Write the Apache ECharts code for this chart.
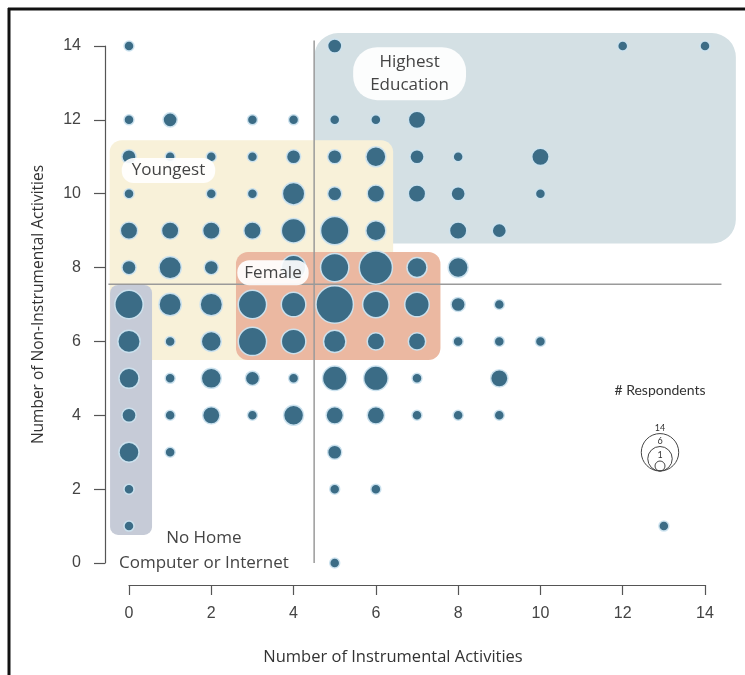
<!DOCTYPE html>
<html>
<head>
<meta charset="utf-8">
<script src="https://cdn.jsdelivr.net/npm/echarts@6/dist/echarts.min.js"></script>
<style>
  html, body { margin: 0; padding: 0; background: #fff; }
  #chart { width: 745px; height: 675px; }
</style>
</head>
<body>
<div id="chart"></div>
<script>
// number of respondents per (instrumental, non-instrumental) cell
// one row per non-instrumental level, index in row = instrumental activities 0..14
const nonInstrLevels = [14, 12, 11, 10, 9, 8, 7, 6, 5, 4, 3, 2, 1, 0];
const respondentRows = [
  [1, 0, 0, 0, 0, 2, 0, 0, 0, 0, 0, 0, 1, 0, 1],
  [1, 2, 0, 1, 1, 1, 1, 3, 0, 0, 0, 0, 0, 0, 0],
  [2, 1, 1, 1, 2, 2, 4, 2, 1, 0, 3, 0, 0, 0, 0],
  [1, 0, 1, 1, 5, 2, 3, 3, 2, 0, 1, 0, 0, 0, 0],
  [3, 3, 3, 3, 6, 8, 4, 0, 3, 2, 0, 0, 0, 0, 0],
  [2, 5, 2, 0, 6, 8, 11, 4, 4, 0, 0, 0, 0, 0, 0],
  [8, 5, 5, 8, 6, 14, 7, 6, 2, 1, 0, 0, 0, 0, 0],
  [5, 1, 4, 8, 6, 5, 3, 3, 1, 1, 1, 0, 0, 0, 0],
  [4, 1, 4, 2, 1, 6, 6, 1, 0, 3, 0, 0, 0, 0, 0],
  [2, 1, 3, 1, 4, 3, 3, 1, 1, 1, 0, 0, 0, 0, 0],
  [4, 1, 0, 0, 0, 2, 0, 0, 0, 0, 0, 0, 0, 0, 0],
  [1, 0, 0, 0, 0, 1, 1, 0, 0, 0, 0, 0, 0, 0, 0],
  [1, 0, 0, 0, 0, 0, 0, 0, 0, 0, 0, 0, 0, 1, 0],
  [0, 0, 0, 0, 0, 1, 0, 0, 0, 0, 0, 0, 0, 0, 0]
];

// highlighted groups: [xFrom, yTop, xTo, yBottom] in activity units
const groupNames = ["Highest\nEducation", "Youngest", "Female", "No Home\nComputer or Internet"];
const groupBounds = [
  [4.5, 14.35, 14.75, 8.65],
  [-0.47, 11.45, 6.42, 5.5],
  [2.6, 8.42, 7.57, 5.5],
  [-0.46, 7.53, 0.56, 0.76]
];
const groupLabelAt = [[6.82, 13.25], [0.96, 10.63], [3.5, 7.86], [1.82, 0.34]];

// split lines
const splitLines = [[4.5, 14.15, 4.5, 0], [-0.5, 7.55, 14.4, 7.55]];

const legendCounts = [14, 6, 1];

var myChart = echarts.init(document.getElementById("chart"));

const points = [];
respondentRows.forEach((row, r) => {
  row.forEach((n, x) => {
    if (n > 0) points.push([x, nonInstrLevels[r], n]);
  });
});

const dotScale = 10;
const groupColors = ["#d4e0e4", "#f8f1d9", "#ebb8a1", "#c6cbd7"];
const groupRadius = [24, 12, 12, 8];

// legend circles share the same size scale as the dots
const lgX = 660, lgBottom = 471;
const legendGraphics = [];
legendCounts.forEach((n) => {
  const r = dotScale * Math.sqrt(n) / 2;
  legendGraphics.push({
    type: "circle",
    shape: { cx: lgX, cy: lgBottom - r, r: r },
    style: { fill: "none", stroke: "#444", lineWidth: 1 }
  });
  legendGraphics.push({
    type: "text",
    x: lgX,
    y: lgBottom - 2 * r - 1,
    style: {
      text: String(n), fill: "#333", font: "9px Lato",
      align: "center", verticalAlign: "bottom"
    }
  });
});

let option = {
  animation: false,
  grid: { left: 129, top: 46, width: 576, height: 517 },
  xAxis: {
    type: "value", min: 0, max: 14, interval: 2, offset: 22,
    name: "Number of Instrumental Activities",
    nameLocation: "middle", nameGap: 64,
    nameTextStyle: { fontFamily: "Open Sans", fontSize: 16.5, color: "#333", padding: [0, 48, 0, 0] },
    axisLine: { onZero: false, lineStyle: { color: "#555", width: 1.2 } },
    axisTick: { length: 10, lineStyle: { color: "#555", width: 1.2 } },
    axisLabel: { margin: 21, fontFamily: "Liberation Sans", fontSize: 16, color: "#444" },
    splitLine: { show: false }
  },
  yAxis: {
    type: "value", min: 0, max: 14, interval: 2, offset: 24,
    name: "Number of Non-Instrumental Activities",
    nameLocation: "middle", nameGap: 58,
    nameTextStyle: { fontFamily: "Open Sans", fontSize: 15.5, color: "#333" },
    axisLine: { onZero: false, lineStyle: { color: "#555", width: 1.2 } },
    axisTick: { length: 11, lineStyle: { color: "#555", width: 1.2 } },
    axisLabel: { margin: 24, fontFamily: "Liberation Sans", fontSize: 16, color: "#444" },
    splitLine: { show: false }
  },
  graphic: [
    { type: "line", shape: { x1: 8, y1: 9, x2: 745, y2: 9 }, style: { stroke: "#111", lineWidth: 3 } },
    { type: "line", shape: { x1: 9, y1: 8, x2: 9, y2: 675 }, style: { stroke: "#111", lineWidth: 3 } },
    {
      type: "text", x: lgX, y: 390,
      style: { text: "# Respondents", fill: "#333", font: "14px Lato", align: "center", verticalAlign: "middle" }
    }
  ].concat(legendGraphics),
  series: [
    {
      type: "custom",
      z: 1,
      clip: false,
      data: groupBounds,
      renderItem: function (params, api) {
        const i = params.dataIndex;
        const p0 = api.coord([api.value(0), api.value(1)]);
        const p1 = api.coord([api.value(2), api.value(3)]);
        return {
          type: "rect",
          shape: { x: p0[0], y: p0[1], width: p1[0] - p0[0], height: p1[1] - p0[1], r: groupRadius[i] },
          style: { fill: groupColors[i] }
        };
      }
    },
    {
      type: "custom",
      z: 2,
      clip: false,
      data: splitLines,
      renderItem: function (params, api) {
        const p0 = api.coord([api.value(0), api.value(1)]);
        const p1 = api.coord([api.value(2), api.value(3)]);
        return {
          type: "line",
          shape: { x1: p0[0], y1: p0[1], x2: p1[0], y2: p1[1] },
          style: { stroke: "#9a9a9a", lineWidth: 1.5 }
        };
      }
    },
    {
      type: "scatter",
      z: 3,
      clip: false,
      data: points,
      symbolSize: function (d) {
        return dotScale * Math.sqrt(d[2]);
      },
      itemStyle: { color: "#3b6c86", borderColor: "rgba(205,228,240,0.95)", borderWidth: 1.5, opacity: 1 }
    },
    {
      type: "custom",
      z: 4,
      clip: false,
      data: groupLabelAt,
      renderItem: function (params, api) {
        const i = params.dataIndex;
        const p = api.coord([api.value(0), api.value(1)]);
        const boxed = i < 3;
        const pads = [[4, 17, 3, 17], [1, 10, 1, 10], [1, 7, 1, 7], [0, 0, 0, 0]];
        return {
          type: "text",
          x: p[0], y: p[1],
          style: {
            text: groupNames[i],
            fill: "#444",
            font: "17px 'Open Sans'",
            lineHeight: i === 3 ? 25 : 23,
            align: "center",
            verticalAlign: "middle",
            backgroundColor: boxed ? "rgba(255,255,255,0.92)" : null,
            padding: pads[i],
            borderRadius: i === 0 ? 24 : 12
          }
        };
      }
    }
  ]
};

myChart.setOption(option);
</script>
</body>
</html>
